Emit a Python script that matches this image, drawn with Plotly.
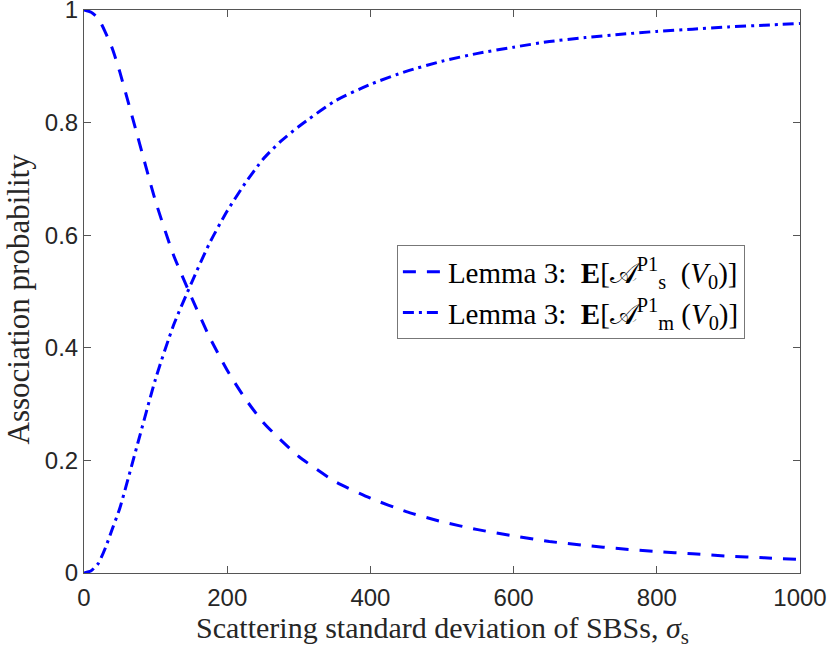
import plotly.graph_objects as go

# sigma_s values (x) and read-off probabilities
x_s = [0, 10, 20, 30, 40, 50, 75, 100, 125, 150, 175, 200, 225, 250, 275, 300, 350,
       400, 450, 500, 550, 600, 650, 700, 750, 800, 850, 900, 950, 1000]
y_s = [1.0, 0.996, 0.985, 0.96, 0.93, 0.89, 0.775, 0.66, 0.565, 0.49, 0.42, 0.36,
       0.31, 0.268, 0.236, 0.207, 0.163, 0.133, 0.109, 0.091, 0.077, 0.066, 0.056,
       0.049, 0.043, 0.038, 0.034, 0.030, 0.027, 0.024]

x_m = [0, 10, 20, 30, 40, 50, 75, 100, 125, 150, 175, 200, 225, 250, 275, 300, 350,
       400, 450, 500, 550, 600, 650, 700, 750, 800, 850, 900, 950, 1000]
y_m = [0.0, 0.004, 0.017, 0.045, 0.08, 0.115, 0.23, 0.345, 0.44, 0.515, 0.585, 0.643,
       0.692, 0.735, 0.767, 0.793, 0.838, 0.868, 0.891, 0.909, 0.923, 0.934, 0.944,
       0.951, 0.957, 0.962, 0.966, 0.970, 0.973, 0.976]

x_ticks = [0, 200, 400, 600, 800, 1000]
y_ticks = [0, 0.2, 0.4, 0.6, 0.8, 1]

x_title = "Scattering standard deviation of SBSs, <i>σ</i><sub>s</sub>"
y_title = "Association probability"
name_s = "Lemma 3:  <b>E</b>[𝒜<sup>P1</sup><sub>s</sub>  (<i>V</i><sub>0</sub>)]"
name_m = "Lemma 3:  <b>E</b>[𝒜<sup>P1</sup><sub>m</sub> (<i>V</i><sub>0</sub>)]"

serif = "Liberation Serif, DejaVu Serif, serif"
sans = "Liberation Sans, Arial, sans-serif"

fig = go.Figure()
fig.add_trace(go.Scatter(x=x_s, y=y_s, mode="lines", name=name_s,
                         line=dict(color="#0000ff", width=3, dash="13px,11px", shape="spline", smoothing=0.6)))
fig.add_trace(go.Scatter(x=x_m, y=y_m, mode="lines", name=name_m,
                         line=dict(color="#0000ff", width=3, dash="11px,5px,3px,5px", shape="spline", smoothing=0.6)))

axis_common = dict(showline=True, linecolor="#555555", linewidth=1, mirror="ticks",
                   ticks="inside", ticklen=7, tickcolor="#555555", showgrid=False,
                   zeroline=False, automargin=False, ticklabeloverflow="allow",
                   tickfont=dict(family=sans, size=24, color="#262626"))

fig.update_xaxes(range=[0, 1000], tickvals=x_ticks, ticklabelstandoff=3, **axis_common)
fig.update_yaxes(range=[0, 1], tickvals=y_ticks, **axis_common)

fig.add_annotation(text=x_title, xref="paper", yref="paper", x=0.5, y=0,
                   xanchor="center", yanchor="middle", yshift=-57, showarrow=False,
                   font=dict(family=serif, size=30, color="#262626"))
fig.add_annotation(text=y_title, xref="paper", yref="paper", x=0, y=0.5,
                   xanchor="center", yanchor="middle", xshift=-66, yshift=-8, showarrow=False,
                   textangle=-90, font=dict(family=serif, size=31, color="#262626"))

fig.update_layout(
    width=830, height=649,
    margin=dict(l=84, r=30, t=10, b=76),
    plot_bgcolor="white", paper_bgcolor="white",
    showlegend=True,
    legend=dict(x=0.437, y=0.582, xanchor="left", yanchor="top",
                bgcolor="white", bordercolor="#777777", borderwidth=1,
                font=dict(family=serif, size=29, color="#000000"),
                itemwidth=40, tracegroupgap=0),
)

fig.write_html("out.html", config={"displayModeBar": False},
               post_script="document.body.style.margin='0px';document.body.style.overflow='hidden';")
